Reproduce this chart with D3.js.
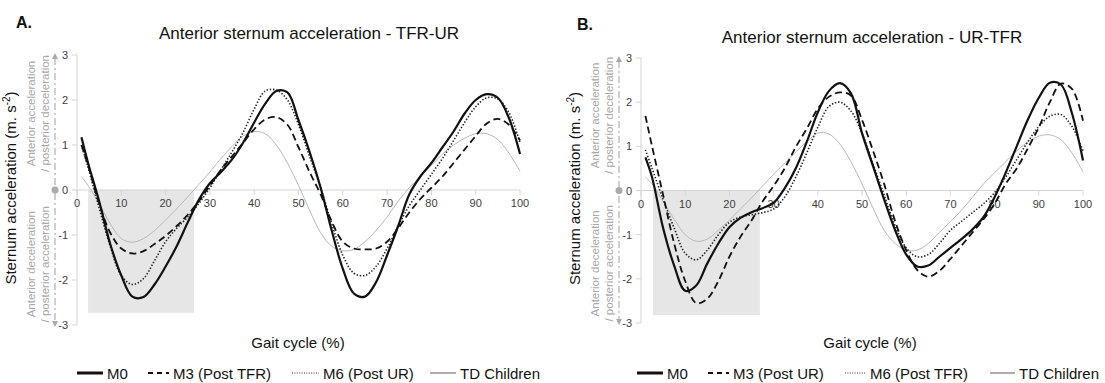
<!DOCTYPE html>
<html><head><meta charset="utf-8">
<script src="https://cdn.jsdelivr.net/npm/d3@7"></script>
<style>body{margin:0;background:#fff} svg{display:block;font-family:"Liberation Sans",Arial,sans-serif}</style>
</head><body><svg id="chart" width="1105" height="383"></svg>
<script>
// ---- data ----
const gaitPct = [1,2.5,5,7.5,10,12.5,15,17.5,20,22.5,25,27.5,30,32.5,35,37.5,40,42.5,45,47.5,50,52.5,55,57.5,60,62.5,65,67.5,70,72.5,75,77.5,80,82.5,85,87.5,90,92.5,95,97.5,100];

// Panel A : TFR-UR
const aM0 = [1.17,0.6,-0.25,-1.2,-1.9,-2.37,-2.38,-2.1,-1.7,-1.25,-0.72,-0.22,0.15,0.4,0.68,1.05,1.5,1.92,2.2,2.17,1.55,0.85,0.05,-0.9,-1.75,-2.3,-2.37,-2.05,-1.45,-0.8,-0.1,0.3,0.6,0.95,1.3,1.7,2.0,2.13,2.05,1.6,0.8];
const aM3 = [1.0,0.55,-0.3,-0.95,-1.3,-1.41,-1.36,-1.2,-1.02,-0.8,-0.55,-0.25,0.1,0.45,0.75,1.05,1.35,1.57,1.62,1.45,0.95,0.4,-0.1,-0.7,-1.15,-1.3,-1.32,-1.3,-1.15,-0.85,-0.5,-0.2,0.05,0.3,0.6,0.9,1.2,1.48,1.58,1.45,1.1];
const aM6 = [1.0,0.5,-0.4,-1.25,-1.9,-2.1,-1.97,-1.57,-1.15,-0.85,-0.6,-0.3,0.05,0.45,0.85,1.28,1.8,2.2,2.22,2.0,1.45,0.75,0.05,-0.75,-1.45,-1.85,-1.9,-1.7,-1.3,-0.8,-0.35,0.0,0.35,0.7,1.1,1.5,1.85,2.05,2.02,1.72,1.05];
const aTD = [0.3,0.1,-0.3,-0.75,-1.08,-1.16,-1.08,-0.9,-0.67,-0.42,-0.15,0.12,0.4,0.7,0.97,1.2,1.3,1.25,1.0,0.6,0.1,-0.45,-0.95,-1.25,-1.35,-1.32,-1.15,-0.9,-0.6,-0.25,0.05,0.3,0.55,0.8,1.0,1.15,1.25,1.25,1.12,0.82,0.42];

// Panel B : UR-TFR
const bM0 = [0.75,0.3,-0.85,-1.7,-2.27,-2.15,-1.65,-1.2,-0.83,-0.62,-0.49,-0.4,-0.28,0.05,0.5,1.1,1.77,2.25,2.43,2.2,1.3,0.55,-0.2,-0.9,-1.45,-1.72,-1.7,-1.5,-1.3,-1.1,-0.88,-0.6,-0.15,0.4,1.0,1.6,2.1,2.44,2.4,1.75,0.68];
const bM3 = [1.69,1.0,-0.1,-1.2,-2.05,-2.55,-2.45,-2.05,-1.5,-1.05,-0.68,-0.25,0.1,0.5,0.98,1.4,1.85,2.12,2.22,2.15,1.6,0.9,0.15,-0.7,-1.35,-1.8,-1.95,-1.82,-1.55,-1.25,-0.95,-0.65,-0.3,0.15,0.5,0.95,1.43,2.0,2.42,2.3,1.58];
const bM6 = [0.92,0.5,-0.2,-0.85,-1.42,-1.57,-1.35,-1.0,-0.72,-0.6,-0.55,-0.5,-0.42,-0.15,0.3,0.85,1.43,1.9,2.0,1.8,1.3,0.6,-0.1,-0.8,-1.3,-1.5,-1.45,-1.2,-0.9,-0.7,-0.5,-0.3,-0.05,0.3,0.7,1.1,1.45,1.68,1.72,1.45,0.9];
const bTD = [0.3,0.15,-0.25,-0.65,-1.0,-1.15,-1.1,-0.9,-0.67,-0.42,-0.17,0.1,0.37,0.62,0.87,1.1,1.3,1.28,1.05,0.65,0.15,-0.4,-0.9,-1.2,-1.35,-1.35,-1.2,-0.95,-0.7,-0.45,-0.15,0.15,0.4,0.65,0.9,1.1,1.23,1.26,1.15,0.85,0.42];

const xTicks = [0,10,20,30,40,50,60,70,80,90,100];
const yTicks = [-3,-2,-1,0,1,2,3];
const aRegion = [2.5, 26.4, -2.73];   // shaded region: x start, x end, y bottom
const bRegion = [2.7, 26.9, -2.82];
const aLegend = ["M0","M3 (Post TFR)","M6 (Post UR)","TD Children"];
const bLegend = ["M0","M3 (Post UR)","M6 (Post TFR)","TD Children"];

// ---- styles ----
const styles = [
  {stroke:"#111", width:2.2, dash:null},
  {stroke:"#111", width:1.8, dash:"7,4"},
  {stroke:"#222", width:1.6, dash:"1.4,1.8"},
  {stroke:"#b8b8b8", width:1, dash:null}
];
const legStyles = [
  {stroke:"#111", width:3, dash:null},
  {stroke:"#111", width:1.8, dash:"5,4"},
  {stroke:"#333", width:1.2, dash:"1,1.4"},
  {stroke:"#999", width:1.6, dash:null}
];

const svg = d3.select("#chart");

function panel(cfg){
  const x = d3.scaleLinear().domain([0,100]).range(cfg.xr);
  const y = d3.scaleLinear().domain([-3,3]).range(cfg.yr);
  const g = svg.append("g");
  const y0 = y(0), ax = x(0);

  // shaded region
  g.append("rect").attr("x", x(cfg.region[0])).attr("y", y0)
    .attr("width", x(cfg.region[1]) - x(cfg.region[0]))
    .attr("height", y(cfg.region[2]) - y0).attr("fill", "#e6e6e6");

  // y axis line + ticks
  g.append("line").attr("x1",ax).attr("x2",ax).attr("y1",y(3)).attr("y2",y(-3)).attr("stroke","#d4d4d4");
  g.selectAll(".yt").data(yTicks).enter().append("line")
    .attr("x1",ax-5).attr("x2",ax).attr("y1",d=>y(d)).attr("y2",d=>y(d)).attr("stroke","#d4d4d4");
  g.selectAll(".yl").data(yTicks).enter().append("text")
    .attr("x",ax-9).attr("y",d=>y(d)+4).attr("text-anchor","end")
    .attr("font-size",11).attr("fill","#404040").text(d=>d);

  // x axis (zero line)
  g.append("line").attr("x1",ax).attr("x2",x(100)).attr("y1",y0).attr("y2",y0).attr("stroke","#d4d4d4");
  g.selectAll(".xt").data(xTicks).enter().append("line")
    .attr("x1",d=>x(d)).attr("x2",d=>x(d)).attr("y1",y0).attr("y2",y0+5).attr("stroke","#d4d4d4");
  g.selectAll(".xl").data(xTicks).enter().append("text")
    .attr("x",d=>x(d)).attr("y",y0+17).attr("text-anchor","middle")
    .attr("font-size",11).attr("fill","#404040").text(d=>d);

  // direction arrow line
  const axx = ax - 22;
  g.append("line").attr("x1",axx).attr("x2",axx).attr("y1",y(3)+3).attr("y2",y(-3)-3)
    .attr("stroke","#b0b0b0").attr("stroke-width",1.2).attr("stroke-dasharray","7,3,2,3");
  g.append("path").attr("d",`M${axx},${y(3)-2} l-3,6 l6,0 z`).attr("fill","#aaa");
  g.append("path").attr("d",`M${axx},${y(-3)+2} l-3,-6 l6,0 z`).attr("fill","#aaa");
  g.append("circle").attr("cx",axx).attr("cy",y0).attr("r",3.5).attr("fill","#aaa");

  // side labels
  const side = (txt, bx, cy) => g.append("text")
    .attr("transform",`translate(${bx},${cy}) rotate(-90)`).attr("text-anchor","middle")
    .attr("font-size",11.5).attr("fill","#a8a8a8").text(txt);
  side("Anterior acceleration", ax-42, y(1.7));
  side("/ posterior deceleration", ax-28, y(1.7));
  side("Anterior deceleration", ax-42, y(-1.65));
  side("/ posterior acceleration", ax-28, y(-1.65));

  // main y title
  const yt = g.append("text").attr("transform",`translate(${ax-61},${y(0)-2}) rotate(-90)`)
    .attr("text-anchor","middle").attr("font-size",15).attr("fill","#111");
  yt.append("tspan").text("Sternum acceleration (m. s");
  yt.append("tspan").attr("font-size",10).attr("dy",-6).text("-2");
  yt.append("tspan").attr("dy",6).text(")");

  // title and panel letter
  g.append("text").attr("x",cfg.titleX).attr("y",cfg.titleY).attr("text-anchor","middle")
    .attr("font-size",17).attr("fill","#111").text(cfg.title);
  g.append("text").attr("x",cfg.letterX).attr("y",cfg.letterY).attr("font-size",16)
    .attr("font-weight","bold").attr("fill","#111").text(cfg.letter);

  // x title
  g.append("text").attr("x",cfg.xTitleX).attr("y",348).attr("text-anchor","middle")
    .attr("font-size",15).attr("fill","#111").text("Gait cycle (%)");

  // series
  const line = d3.line().x((d,i)=>x(gaitPct[i])).y(d=>y(d)).curve(d3.curveCatmullRom.alpha(0.5));
  const order = [3,2,1,0];
  order.forEach(k=>{
    const s = styles[k];
    g.append("path").datum(cfg.series[k]).attr("d",line).attr("fill","none")
      .attr("stroke",s.stroke).attr("stroke-width",s.width)
      .attr("stroke-dasharray",s.dash).attr("stroke-linecap","butt");
  });

  // legend
  const ly = 373;
  cfg.legend.forEach((lab,k)=>{
    const s = legStyles[k], p = cfg.legPos[k];
    g.append("line").attr("x1",p[0]).attr("x2",p[1]).attr("y1",ly).attr("y2",ly)
      .attr("stroke",s.stroke).attr("stroke-width",s.width).attr("stroke-dasharray",s.dash);
    g.append("text").attr("x",p[1]+4).attr("y",ly+5.5).attr("font-size",15).attr("fill","#111").text(lab);
  });
}

panel({xr:[77,520], yr:[325,55], region:aRegion, series:[aM0,aM3,aM6,aTD],
  title:"Anterior sternum acceleration - TFR-UR", titleX:309, titleY:39, letter:"A.", letterX:16, letterY:28,
  xTitleX:298, legend:aLegend, legPos:[[77,103],[148,169],[292,319],[430,456]]});
panel({xr:[641,1083], yr:[323,58], region:bRegion, series:[bM0,bM3,bM6,bTD],
  title:"Anterior sternum acceleration - UR-TFR", titleX:872, titleY:43, letter:"B.", letterX:577, letterY:30,
  xTitleX:870, legend:bLegend, legPos:[[637,663],[708,729],[845,866],[990,1015]]});
</script>
</body></html>
